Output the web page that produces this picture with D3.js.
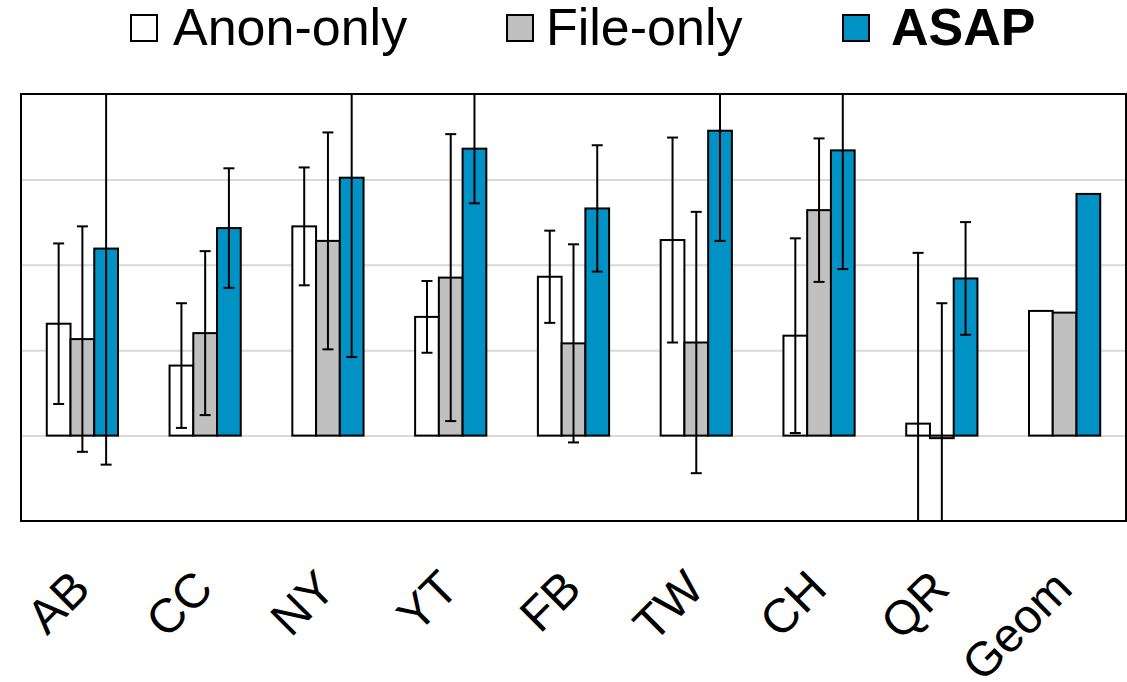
<!DOCTYPE html>
<html>
<head>
<meta charset="utf-8">
<script src="https://cdn.jsdelivr.net/npm/d3@7"></script>
<style>
  html, body { margin: 0; padding: 0; background: #fff; }
  svg { display: block; }
</style>
</head>
<body>
<svg id="chart" width="1127" height="682"></svg>
<script>
// Workloads on the x axis
const categories = ["AB", "CC", "NY", "YT", "FB", "TW", "CH", "QR", "Geom"];

// Series names shown in the legend
const seriesNames = ["Anon-only", "File-only", "ASAP"];

// Mean values per workload
const anonOnly = [1.31, 0.82, 2.45, 1.39, 1.86, 2.29, 1.17, 0.14, 1.46];
const fileOnly = [1.13, 1.20, 2.28, 1.85, 1.08, 1.09, 2.64, -0.03, 1.44];
const asap     = [2.19, 2.43, 3.02, 3.36, 2.66, 3.57, 3.34, 1.84, 2.83];

// Half-width of each error bar (none for the geometric mean)
const anonErr = [0.94, 0.73, 0.69, 0.42, 0.54, 1.20, 1.14, 2.00, null];
const fileErr = [1.32, 0.96, 1.27, 1.68, 1.16, 1.53, 0.84, 1.58, null];
const asapErr = [2.53, 0.70, 2.10, 0.64, 0.74, 1.29, 1.39, 0.66, null];

// Value-axis range and gridline values
const yDomain = [-1, 4];
const gridValues = [0, 1, 2, 3];

const colors = ["#ffffff", "#c0c0c0", "#0092c4"];

const svg = d3.select("#chart");
const plot = { left: 21, right: 1126, top: 94, bottom: 521 };

const x = d3.scaleBand()
  .domain(categories)
  .range([plot.left, plot.right])
  .paddingInner(0.42)
  .paddingOuter(0.21);

const xSub = d3.scaleBand()
  .domain(seriesNames)
  .range([0, x.bandwidth()]);

const y = d3.scaleLinear().domain(yDomain).range([plot.bottom, plot.top]);

const series = [
  { name: seriesNames[0], values: anonOnly, errs: anonErr, color: colors[0] },
  { name: seriesNames[1], values: fileOnly, errs: fileErr, color: colors[1] },
  { name: seriesNames[2], values: asap, errs: asapErr, color: colors[2] }
];

svg.append("defs").append("clipPath").attr("id", "plotClip")
  .append("rect")
  .attr("x", plot.left).attr("y", plot.top)
  .attr("width", plot.right - plot.left)
  .attr("height", plot.bottom - plot.top);

// Horizontal gridlines
svg.append("g")
  .attr("transform", `translate(${plot.left},0)`)
  .call(d3.axisLeft(y).tickValues(gridValues).tickSize(-(plot.right - plot.left)).tickFormat(""))
  .call(g => g.select(".domain").remove())
  .call(g => g.selectAll(".tick line").attr("stroke", "#d9d9d9").attr("stroke-width", 2));

// Bars
const groups = svg.append("g").selectAll("g")
  .data(categories)
  .join("g")
  .attr("transform", d => `translate(${x(d)},0)`);

groups.selectAll("rect")
  .data((d, i) => series.map(s => ({ s, v: s.values[i], e: s.errs[i] })))
  .join("rect")
  .attr("x", d => xSub(d.s.name))
  .attr("width", xSub.bandwidth())
  .attr("y", d => y(Math.max(0, d.v)))
  .attr("height", d => Math.abs(y(d.v) - y(0)))
  .attr("fill", d => d.s.color)
  .attr("stroke", "#000")
  .attr("stroke-width", 2);

// Error bars, clipped to the plot frame
const errLayer = svg.append("g").attr("clip-path", "url(#plotClip)");
const capHalf = 5.5;
categories.forEach((c, i) => {
  series.forEach(s => {
    const e = s.errs[i];
    if (e == null) return;
    const cx = x(c) + xSub(s.name) + xSub.bandwidth() / 2;
    const lo = y(s.values[i] - e), hi = y(s.values[i] + e);
    const g = errLayer.append("g").attr("stroke", "#000").attr("stroke-width", 2);
    g.append("line").attr("x1", cx).attr("x2", cx).attr("y1", lo).attr("y2", hi);
    g.append("line").attr("x1", cx - capHalf).attr("x2", cx + capHalf).attr("y1", lo).attr("y2", lo);
    g.append("line").attr("x1", cx - capHalf).attr("x2", cx + capHalf).attr("y1", hi).attr("y2", hi);
  });
});

// Plot frame
svg.append("rect")
  .attr("x", plot.left).attr("y", plot.top)
  .attr("width", plot.right - plot.left)
  .attr("height", plot.bottom - plot.top)
  .attr("fill", "none")
  .attr("stroke", "#000")
  .attr("stroke-width", 2);

// Rotated category labels
svg.append("g").selectAll("text")
  .data(categories)
  .join("text")
  .attr("transform", d => `translate(${x(d) + x.bandwidth() / 2 + 10},591) rotate(-45)`)
  .attr("text-anchor", "end")
  .attr("font-family", "Liberation Sans, Arial, sans-serif")
  .attr("font-size", 48)
  .attr("fill", "#000")
  .text(d => d);

// Legend
const legendItems = [
  { name: seriesNames[0], color: colors[0], sx: 131, tx: 173, bold: false },
  { name: seriesNames[1], color: colors[1], sx: 507, tx: 546, bold: false },
  { name: seriesNames[2], color: colors[2], sx: 843, tx: 891, bold: true }
];
const legend = svg.append("g");
legendItems.forEach(it => {
  legend.append("rect")
    .attr("x", it.sx).attr("y", 15)
    .attr("width", 26).attr("height", 26)
    .attr("fill", it.color)
    .attr("stroke", "#000")
    .attr("stroke-width", 2);
  legend.append("text")
    .attr("x", it.tx).attr("y", 45)
    .attr("font-family", "Liberation Sans, Arial, sans-serif")
    .attr("font-size", 52)
    .attr("font-weight", it.bold ? "bold" : "normal")
    .attr("fill", "#000")
    .text(it.name);
});
</script>
</body>
</html>
